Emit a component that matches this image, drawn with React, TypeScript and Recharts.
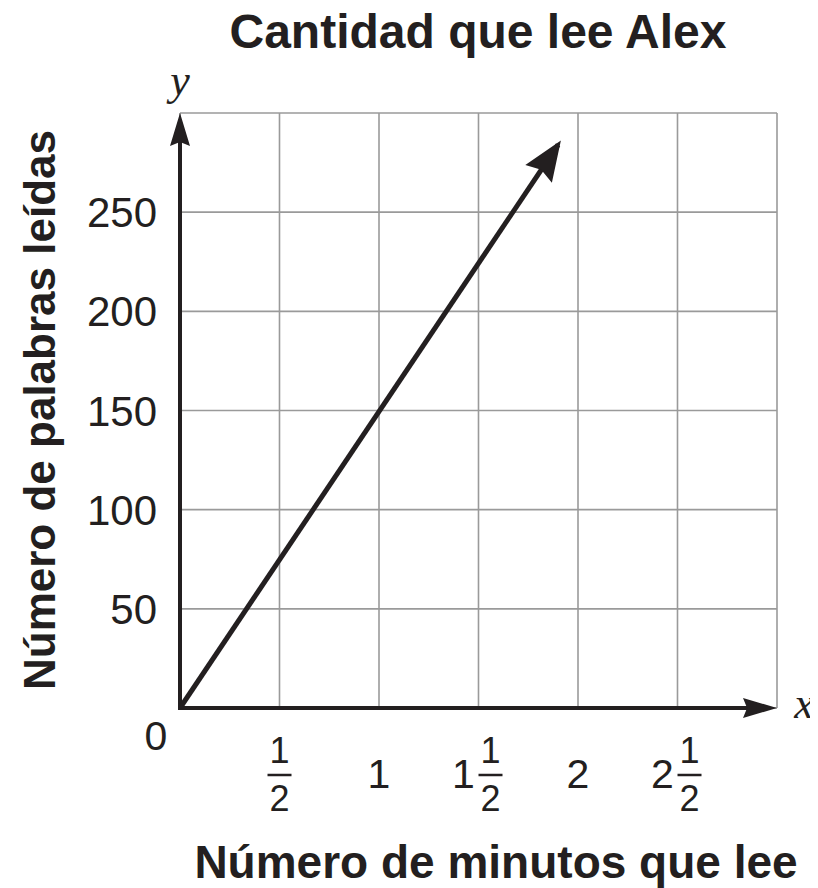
import React from 'react';
import { LineChart, Line, XAxis, YAxis, CartesianGrid, ReferenceLine } from 'recharts';

const title = 'Cantidad que lee Alex';
const xAxisTitle = 'Número de minutos que lee';
const yAxisTitle = 'Número de palabras leídas';
const minutes = [0, 1.9];
const words = [0, 284];
const xTicks = [0, 0.5, 1, 1.5, 2, 2.5, 3];
const yTicks = [0, 50, 100, 150, 200, 250, 300];
const xTickWhole = ['0', '', '1', '1', '2', '2', ''];
const xTickFrac = [false, true, false, true, false, true, false];

const data = minutes.map((m, i) => ({ x: m, y: words[i] }));

const INK = '#231f20';
const SANS = '"Liberation Sans", Arial, Helvetica, sans-serif';
const SERIF = '"Liberation Serif", "Times New Roman", serif';

const XTick = (props: any) => {
  const { x, y, payload } = props;
  const i = xTicks.indexOf(payload.value);
  if (i < 0 || payload.value === 3) return null;
  if (payload.value === 0) {
    return (
      <text x={x - 24} y={y + 42} textAnchor="middle" fontSize={41} fill={INK} fontFamily={SANS}>0</text>
    );
  }
  const whole = xTickWhole[i];
  const frac = xTickFrac[i];
  if (!frac) {
    return (
      <text x={x} y={y + 80} textAnchor="middle" fontSize={41} fill={INK} fontFamily={SANS}>{whole}</text>
    );
  }
  const fx = whole ? x + 12 : x;
  return (
    <g>
      {whole && (
        <text x={x - 15} y={y + 80} textAnchor="middle" fontSize={41} fill={INK} fontFamily={SANS}>{whole}</text>
      )}
      <text x={fx} y={y + 55} textAnchor="middle" fontSize={36} fill={INK} fontFamily={SANS}>1</text>
      <line x1={fx - 12} x2={fx + 12} y1={y + 67} y2={y + 67} stroke={INK} strokeWidth={2.5} />
      <text x={fx} y={y + 103} textAnchor="middle" fontSize={36} fill={INK} fontFamily={SANS}>2</text>
    </g>
  );
};

const YTick = (props: any) => {
  const { x, y, payload } = props;
  if (payload.value === 0 || payload.value === 300) return null;
  return (
    <text x={x - 23} y={y + 15} textAnchor="end" fontSize={42} fill={INK} fontFamily={SANS}>{payload.value}</text>
  );
};

const arrowShape = (len: number, half: number, width: number, drawLine: boolean, extend: number) => (props: any) => {
  const { x1, y1, x2, y2 } = props;
  const dx = x2 - x1;
  const dy = y2 - y1;
  const d = Math.sqrt(dx * dx + dy * dy) || 1;
  const ux = dx / d;
  const uy = dy / d;
  const tx = x2 + ux * extend;
  const ty = y2 + uy * extend;
  const bx = tx - ux * len;
  const by = ty - uy * len;
  const px = -uy;
  const py = ux;
  const pts = `${tx},${ty} ${bx + px * half},${by + py * half} ${bx + ux * len * 0.12},${by + uy * len * 0.12} ${bx - px * half},${by - py * half}`;
  return (
    <g>
      {drawLine && (
        <line x1={x1} y1={y1} x2={bx + ux * 4} y2={by + uy * 4} stroke={INK} strokeWidth={width} strokeLinecap="square" />
      )}
      <polygon points={pts} fill={INK} />
    </g>
  );
};

export default function App() {
  return (
    <div style={{ position: 'relative', width: 818, height: 888, margin: '-8px 0 0 -8px', background: '#fff' }}>
      <LineChart
        width={818}
        height={888}
        data={data}
        margin={{ top: 113, right: 41, bottom: 120, left: 120 }}
      >
        <CartesianGrid stroke="#9a9a9a" strokeWidth={1.6} />
        <XAxis
          dataKey="x"
          type="number"
          domain={[0, 3]}
          ticks={xTicks}
          interval={0}
          axisLine={false}
          tickLine={false}
          tickSize={0}
          tickMargin={0}
          height={60}
          tick={<XTick />}
        />
        <YAxis
          type="number"
          domain={[0, 300]}
          ticks={yTicks}
          interval={0}
          axisLine={false}
          tickLine={false}
          tickSize={0}
          tickMargin={0}
          width={60}
          tick={<YTick />}
        />
        <ReferenceLine
          segment={[{ x: 0, y: 0 }, { x: 0, y: 300 }]}
          ifOverflow="visible"
          shape={arrowShape(33, 10, 4, true, 0)}
          isAnimationActive={false}
        />
        <ReferenceLine
          segment={[{ x: 0, y: 0 }, { x: 3, y: 0 }]}
          ifOverflow="visible"
          shape={arrowShape(34, 10, 4, true, 0)}
          isAnimationActive={false}
        />
        <Line
          dataKey="y"
          stroke={INK}
          strokeWidth={5}
          dot={false}
          activeDot={false}
          isAnimationActive={false}
        />
        <ReferenceLine
          segment={[{ x: minutes[0], y: words[0] }, { x: minutes[1], y: words[1] }]}
          ifOverflow="visible"
          shape={arrowShape(40, 16, 5, false, 5)}
          isAnimationActive={false}
        />
      </LineChart>
      <svg width={818} height={888} style={{ position: 'absolute', left: 0, top: 0, pointerEvents: 'none' }}>
        <text x={478} y={48} textAnchor="middle" fontSize={48} fontWeight="bold" fill={INK} fontFamily={SANS}>{title}</text>
        <text x={496} y={878} textAnchor="middle" fontSize={46} fontWeight="bold" fill={INK} fontFamily={SANS}>{xAxisTitle}</text>
        <text x={55} y={410} textAnchor="middle" fontSize={44} fontWeight="bold" fill={INK} fontFamily={SANS} transform="rotate(-90 55 410)">{yAxisTitle}</text>
        <text x={180} y={95} textAnchor="middle" fontSize={44} fontStyle="italic" fill={INK} fontFamily={SERIF}>y</text>
        <text x={804} y={718} textAnchor="middle" fontSize={44} fontStyle="italic" fill={INK} fontFamily={SERIF}>x</text>
      </svg>
    </div>
  );
}
